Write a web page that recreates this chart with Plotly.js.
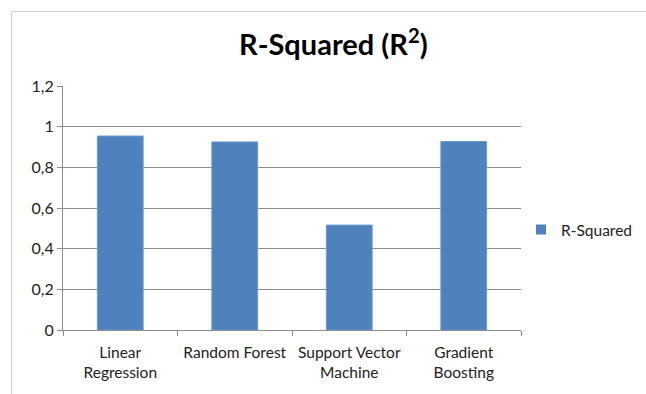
<!DOCTYPE html>
<html><head><meta charset="utf-8">
<script src="https://cdn.plot.ly/plotly-3.0.1.min.js"></script>
<style>
html,body{margin:0;padding:0;background:#fff;width:646px;height:394px;overflow:hidden;}
#frame{position:absolute;left:11px;top:11px;width:700px;height:450px;border:1px solid #d0d0d0;box-sizing:border-box;}
#chart{position:absolute;left:0;top:0;width:646px;height:394px;}
</style></head>
<body>
<div id="frame"></div>
<div id="chart"></div>
<script>
const categories = ["Linear<br>Regression", "Random Forest", "Support Vector<br>Machine", "Gradient<br>Boosting"];
const rSquared = [0.954, 0.925, 0.516, 0.927];
const yTicks = [0, 0.2, 0.4, 0.6, 0.8, 1, 1.2];
const seriesName = "R-Squared";

const font = "Lato, 'Open Sans', sans-serif";
Plotly.newPlot('chart', [{
  type: 'bar',
  x: categories,
  y: rSquared,
  name: seriesName,
  marker: {color: '#4F81BD', line: {color: '#6F9ACF', width: 1}},
  showlegend: false
}, {
  type: 'scatter', mode: 'markers',
  x: [null], y: [null],
  name: seriesName,
  marker: {symbol: 'square', size: 10, color: '#4F81BD'},
  showlegend: true
}], {
  width: 646, height: 394,
  paper_bgcolor: 'rgba(0,0,0,0)',
  plot_bgcolor: 'rgba(0,0,0,0)',
  separators: ', ',
  margin: {l: 63, r: 125, t: 86, b: 64, pad: 0, autoexpand: false},
  bargap: 0.6,
  font: {family: font, size: 15, color: '#222'},
  title: {text: '<b>R-Squared (R<sup>2</sup>)</b>', x: 0.516, xanchor: 'center', y: 0.886, yanchor: 'middle',
          font: {family: font, size: 29, color: '#000'}},
  xaxis: {
    showline: true, linecolor: '#8c8c8c', linewidth: 1,
    ticks: 'outside', tickson: 'boundaries', ticklen: 5, tickcolor: '#8c8c8c',
    ticklabelstandoff: 8, tickangle: 0,
    showgrid: false, tickfont: {size: 15.5, color: '#222'}, fixedrange: true
  },
  yaxis: {
    range: [0, 1.2], tickvals: yTicks,
    showline: true, linecolor: '#8c8c8c', linewidth: 1,
    ticks: 'outside', ticklen: 5, tickcolor: '#8c8c8c',
    showgrid: true, gridcolor: '#8c8c8c', gridwidth: 1,
    zeroline: false, tickfont: {size: 16, color: '#222'}, fixedrange: true
  },
  legend: {x: 1.0, xanchor: 'left', y: 0.41, yanchor: 'middle', font: {size: 15.5, color: '#222'},
           bgcolor: 'rgba(0,0,0,0)', itemwidth: 30}
}, {displayModeBar: false, staticPlot: true});
</script>
</body></html>
